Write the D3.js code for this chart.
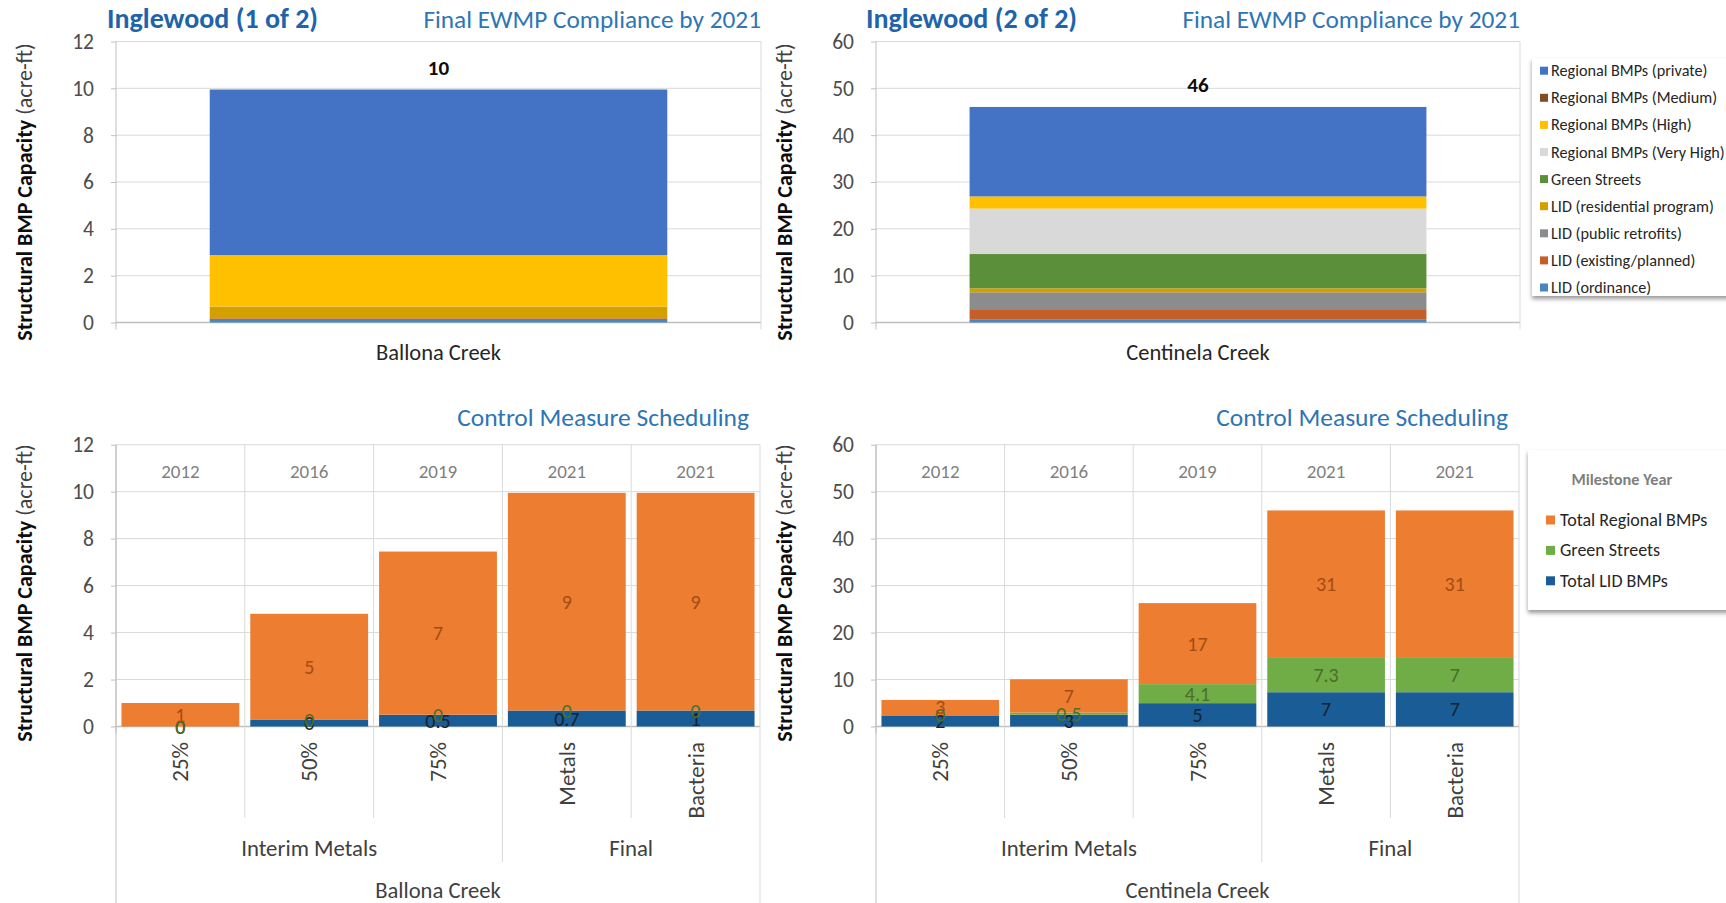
<!DOCTYPE html>
<html>
<head>
<meta charset="utf-8">
<script src="https://cdn.jsdelivr.net/npm/d3@7"></script>
<style>
  body { margin: 0; background: #fff; }
  svg { display: block; }
</style>
</head>
<body>
<svg id="chart" width="1726" height="903"></svg>
<script>
// ---------------- DATA ----------------
const places = ["Inglewood (1 of 2)", "Inglewood (2 of 2)"];
const creeks = ["Ballona Creek", "Centinela Creek"];
const complianceTitle = "Final EWMP Compliance by 2021";
const scheduleTitle = "Control Measure Scheduling";
const yTitleBold = "Structural BMP Capacity";
const yTitleUnit = "(acre-ft)";

// stacked series, bottom to top
const stackSeries = [
  "LID (ordinance)", "LID (existing/planned)", "LID (public retrofits)",
  "LID (residential program)", "Green Streets", "Regional BMPs (Very High)",
  "Regional BMPs (High)", "Regional BMPs (Medium)", "Regional BMPs (private)"
];
const ballonaStack   = [0.15, 0.03, 0, 0.5, 0, 0, 2.2, 0, 7.07];
const centinelaStack = [0.7, 2.15, 3.6, 0.85, 7.32, 9.7, 2.6, 0, 19.1];

const ballonaTicks = [0, 2, 4, 6, 8, 10, 12];
const centinelaTicks = [0, 10, 20, 30, 40, 50, 60];

const milestones = ["25%", "50%", "75%", "Metals", "Bacteria"];
const milestoneGroups = ["Interim Metals", "Interim Metals", "Interim Metals", "Final", "Final"];
const milestoneYears = ["2012", "2016", "2019", "2021", "2021"];
const scheduleSeries = ["Total LID BMPs", "Green Streets", "Total Regional BMPs"];
const legendTitle = "Milestone Year";

const ballonaLid      = [0, 0.28, 0.5, 0.68, 0.68];
const ballonaGreen    = [0, 0, 0, 0, 0];
const ballonaRegional = [1.0, 4.52, 6.95, 9.27, 9.27];
const ballonaLidLabels      = ["0", "0", "0.5", "0.7", "1"];
const ballonaGreenLabels    = ["0", "0", "0", "0", "0"];
const ballonaRegionalLabels = ["1", "5", "7", "9", "9"];

const centinelaLid      = [2.25, 2.5, 4.97, 7.3, 7.3];
const centinelaGreen    = [0.2, 0.45, 4.05, 7.3, 7.3];
const centinelaRegional = [3.2, 7.1, 17.25, 31.4, 31.4];
const centinelaLidLabels      = ["2", "3", "5", "7", "7"];
const centinelaGreenLabels    = ["0", "0.5", "4.1", "7.3", "7"];
const centinelaRegionalLabels = ["3", "7", "17", "31", "31"];

// ---------------- STYLE ----------------
const FONT = "Carlito, Lato, 'Open Sans', sans-serif";
const stackColors = ["#4a86c0", "#c65f27", "#8c8c8c", "#d4a000", "#5b8f3a", "#d9d9d9", "#ffc000", "#7f4f24", "#4472c4"];
const scheduleColors = ["#1a5c96", "#70ad47", "#ed7d31"];
const scheduleLabelColors = ["#16222e", "#4b6f2a", "#a34d14"];
const GRID = "#d9d9d9", AXIS = "#bfbfbf";

const svg = d3.select("#chart");
const defs = svg.append("defs");
const filt = defs.append("filter").attr("id", "shadow")
  .attr("x", "-10%").attr("y", "-10%").attr("width", "130%").attr("height", "140%");
filt.append("feDropShadow").attr("dx", 0).attr("dy", 3).attr("stdDeviation", 2)
  .attr("flood-color", "#000").attr("flood-opacity", 0.4);

function txt(g, x, y, s, o = {}) {
  return g.append("text").attr("x", x).attr("y", y).text(s)
    .attr("text-anchor", o.anchor || "start")
    .attr("dominant-baseline", o.base || "auto")
    .attr("fill", o.fill || "#404040")
    .style("font-family", FONT)
    .style("font-size", (o.size || 16) + "px")
    .style("font-weight", o.weight || 400);
}

function yTitle(cx, cy) {
  const t = svg.append("text")
    .attr("transform", `translate(${cx},${cy}) rotate(-90)`)
    .attr("text-anchor", "middle").attr("dominant-baseline", "central")
    .style("font-family", FONT).style("font-size", "22px");
  t.append("tspan").attr("font-weight", 700).attr("fill", "#0d0d0d").text(yTitleBold);
  t.append("tspan").attr("fill", "#404040").attr("font-weight", 300).text(" " + yTitleUnit);
}

function yAxis(g, y, left, right, ticks) {
  g.append("g").selectAll("line").data(ticks).join("line")
    .attr("x1", left).attr("x2", right)
    .attr("y1", d => y(d)).attr("y2", d => y(d))
    .attr("stroke", d => d === 0 ? AXIS : GRID)
    .attr("stroke-width", d => d === 0 ? 1.5 : 1);
  const ax = g.append("g").attr("transform", `translate(${left},0)`)
    .call(d3.axisLeft(y).tickValues(ticks).tickSize(5).tickSizeOuter(0).tickPadding(17));
  ax.select(".domain").remove();
  ax.selectAll(".tick line").attr("stroke", AXIS);
  ax.selectAll(".tick text").attr("fill", "#4d4d4d")
    .style("font-family", FONT).style("font-size", "21.5px");
  g.append("line").attr("x1", left).attr("x2", left)
    .attr("y1", y.range()[1]).attr("y2", y(0) + 7).attr("stroke", AXIS);
}

// --------------- Top compliance charts ---------------
function drawCompliance(cfg) {
  const g = svg.append("g");
  const y = d3.scaleLinear().domain([0, d3.max(cfg.ticks)]).range([cfg.bottom, cfg.top]);
  const x = d3.scaleBand().domain([cfg.creek]).range([cfg.left, cfg.right])
    .paddingInner(0.17).paddingOuter(0.17);
  yAxis(g, y, cfg.left, cfg.right, cfg.ticks);
  g.append("line").attr("x1", cfg.right).attr("x2", cfg.right)
    .attr("y1", cfg.top).attr("y2", cfg.bottom + 7).attr("stroke", GRID);

  const row = { cat: cfg.creek };
  stackSeries.forEach((s, i) => row[s] = cfg.values[i]);
  const st = d3.stack().keys(stackSeries)([row]);
  g.append("g").selectAll("rect").data(st).join("rect")
    .attr("x", x(cfg.creek)).attr("width", x.bandwidth())
    .attr("y", d => y(d[0][1]))
    .attr("height", d => y(d[0][0]) - y(d[0][1]))
    .attr("fill", (d, i) => stackColors[i]);

  const total = d3.sum(cfg.values);
  txt(g, x(cfg.creek) + x.bandwidth() / 2, y(total) - 22, d3.format(".0f")(total),
    { anchor: "middle", base: "central", size: 21, weight: 700, fill: "#0d0d0d" });
  txt(g, x(cfg.creek) + x.bandwidth() / 2, cfg.bottom + 30, cfg.creek,
    { anchor: "middle", base: "central", size: 22.5, fill: "#262626" });

  txt(g, cfg.titleX, 28, cfg.place, { size: 28, weight: 700, fill: "#1f64ab" });
  txt(g, cfg.right, 28, complianceTitle, { anchor: "end", size: 25.3, fill: "#2e75b6" });
  yTitle(cfg.left - 92, 192);
}

drawCompliance({ left: 116, right: 761, top: 41.5, bottom: 322.5, ticks: ballonaTicks,
  values: ballonaStack, creek: creeks[0], place: places[0], titleX: 107 });
drawCompliance({ left: 876, right: 1520, top: 41.5, bottom: 322.5, ticks: centinelaTicks,
  values: centinelaStack, creek: creeks[1], place: places[1], titleX: 866 });

// legend top-right
(function () {
  const g = svg.append("g");
  g.append("rect").attr("x", 1532).attr("y", 58).attr("width", 210).attr("height", 238)
    .attr("fill", "#fff").attr("filter", "url(#shadow)");
  const items = stackSeries.map((s, i) => ({ s, c: stackColors[i] })).reverse();
  const it = g.selectAll("g.it").data(items).join("g")
    .attr("transform", (d, i) => `translate(1540,${70.7 + i * 27.1})`);
  it.append("rect").attr("x", 0).attr("y", -4).attr("width", 8).attr("height", 8).attr("fill", d => d.c);
  it.each(function (d) {
    txt(d3.select(this), 11, 0, d.s, { base: "central", size: 16.2, fill: "#262626" });
  });
})();

// --------------- Bottom schedule charts ---------------
function drawSchedule(cfg) {
  const g = svg.append("g");
  const y = d3.scaleLinear().domain([0, d3.max(cfg.ticks)]).range([cfg.bottom, cfg.top]);
  const x = d3.scaleBand().domain(milestones).range([cfg.left, cfg.right])
    .paddingInner(0.085).paddingOuter(0.0425);
  const n = milestones.length;
  const step = (cfg.right - cfg.left) / n;

  yAxis(g, y, cfg.left, cfg.right, cfg.ticks);

  // category separators (in plot and below)
  const seps = d3.range(n + 1).map(i => {
    let ext = 818;
    if (i === 0 || i === n) ext = 903;
    else if (milestoneGroups[i] !== milestoneGroups[i - 1]) ext = 862;
    return { x: cfg.left + i * step, ext };
  });
  g.append("g").selectAll("line").data(seps).join("line")
    .attr("x1", d => d.x).attr("x2", d => d.x)
    .attr("y1", cfg.top).attr("y2", d => d.ext)
    .attr("stroke", (d, i) => i === 0 ? AXIS : GRID);

  // year labels
  g.append("g").selectAll("text").data(milestoneYears).join("text")
    .attr("x", (d, i) => x(milestones[i]) + x.bandwidth() / 2).attr("y", 471)
    .attr("text-anchor", "middle").attr("dominant-baseline", "central")
    .attr("fill", "#7f7f7f").style("font-family", FONT).style("font-size", "19px")
    .text(d => d);

  // stacked bars
  const rows = milestones.map((m, i) => ({
    m, [scheduleSeries[0]]: cfg.lid[i], [scheduleSeries[1]]: cfg.green[i], [scheduleSeries[2]]: cfg.regional[i]
  }));
  const st = d3.stack().keys(scheduleSeries)(rows);
  const labels = [cfg.lidLabels, cfg.greenLabels, cfg.regLabels];
  st.forEach((layer, li) => {
    g.append("g").selectAll("rect").data(layer).join("rect")
      .attr("x", d => x(d.data.m)).attr("width", x.bandwidth())
      .attr("y", d => y(d[1])).attr("height", d => y(d[0]) - y(d[1]))
      .attr("fill", scheduleColors[li]);
  });
  st.forEach((layer, li) => {
    g.append("g").selectAll("text").data(layer).join("text")
      .attr("x", d => x(d.data.m) + x.bandwidth() / 2)
      .attr("y", d => (y(d[0]) + y(d[1])) / 2)
      .attr("text-anchor", "middle").attr("dominant-baseline", "central")
      .attr("fill", scheduleLabelColors[li])
      .style("font-family", FONT).style("font-size", "20px")
      .text((d, i) => labels[li][i]);
  });

  // category labels (rotated)
  g.append("g").selectAll("text").data(milestones).join("text")
    .attr("transform", d => `translate(${x(d) + x.bandwidth() / 2},742) rotate(-90)`)
    .attr("text-anchor", "end").attr("dominant-baseline", "central")
    .attr("fill", "#404040").style("font-family", FONT).style("font-size", "23px")
    .text(d => d);

  // group labels
  const groups = Array.from(new Set(milestoneGroups));
  groups.forEach(gr => {
    const idx = milestoneGroups.map((v, i) => v === gr ? i : -1).filter(i => i >= 0);
    const x0 = cfg.left + d3.min(idx) * step, x1 = cfg.left + (d3.max(idx) + 1) * step;
    txt(g, (x0 + x1) / 2, 848, gr, { anchor: "middle", base: "central", size: 22.8, fill: "#404040" });
  });
  txt(g, (cfg.left + cfg.right) / 2, 890, cfg.creek, { anchor: "middle", base: "central", size: 22.6, fill: "#404040" });

  txt(g, cfg.titleEnd, 426, scheduleTitle, { anchor: "end", size: 25.5, fill: "#2e75b6" });
  yTitle(cfg.left - 92, 593);
}

drawSchedule({ left: 116, right: 760, top: 444.7, bottom: 726.5, ticks: ballonaTicks,
  lid: ballonaLid, green: ballonaGreen, regional: ballonaRegional,
  lidLabels: ballonaLidLabels, greenLabels: ballonaGreenLabels, regLabels: ballonaRegionalLabels,
  creek: creeks[0], titleEnd: 749 });
drawSchedule({ left: 876, right: 1519, top: 444.7, bottom: 726.5, ticks: centinelaTicks,
  lid: centinelaLid, green: centinelaGreen, regional: centinelaRegional,
  lidLabels: centinelaLidLabels, greenLabels: centinelaGreenLabels, regLabels: centinelaRegionalLabels,
  creek: creeks[1], titleEnd: 1508 });

// legend bottom-right
(function () {
  const g = svg.append("g");
  g.append("rect").attr("x", 1528).attr("y", 450).attr("width", 210).attr("height", 160)
    .attr("fill", "#fff").attr("filter", "url(#shadow)");
  txt(g, 1622, 479, legendTitle, { anchor: "middle", base: "central", size: 16.3, weight: 700, fill: "#7f7f7f" });
  const items = scheduleSeries.map((s, i) => ({ s, c: scheduleColors[i] })).reverse();
  const it = g.selectAll("g.it").data(items).join("g")
    .attr("transform", (d, i) => `translate(1546,${520 + i * 30.4})`);
  it.append("rect").attr("x", 0).attr("y", -4.5).attr("width", 9).attr("height", 9).attr("fill", d => d.c);
  it.each(function (d) {
    txt(d3.select(this), 14, 0, d.s, { base: "central", size: 18, fill: "#262626" });
  });
})();
</script>
</body>
</html>
